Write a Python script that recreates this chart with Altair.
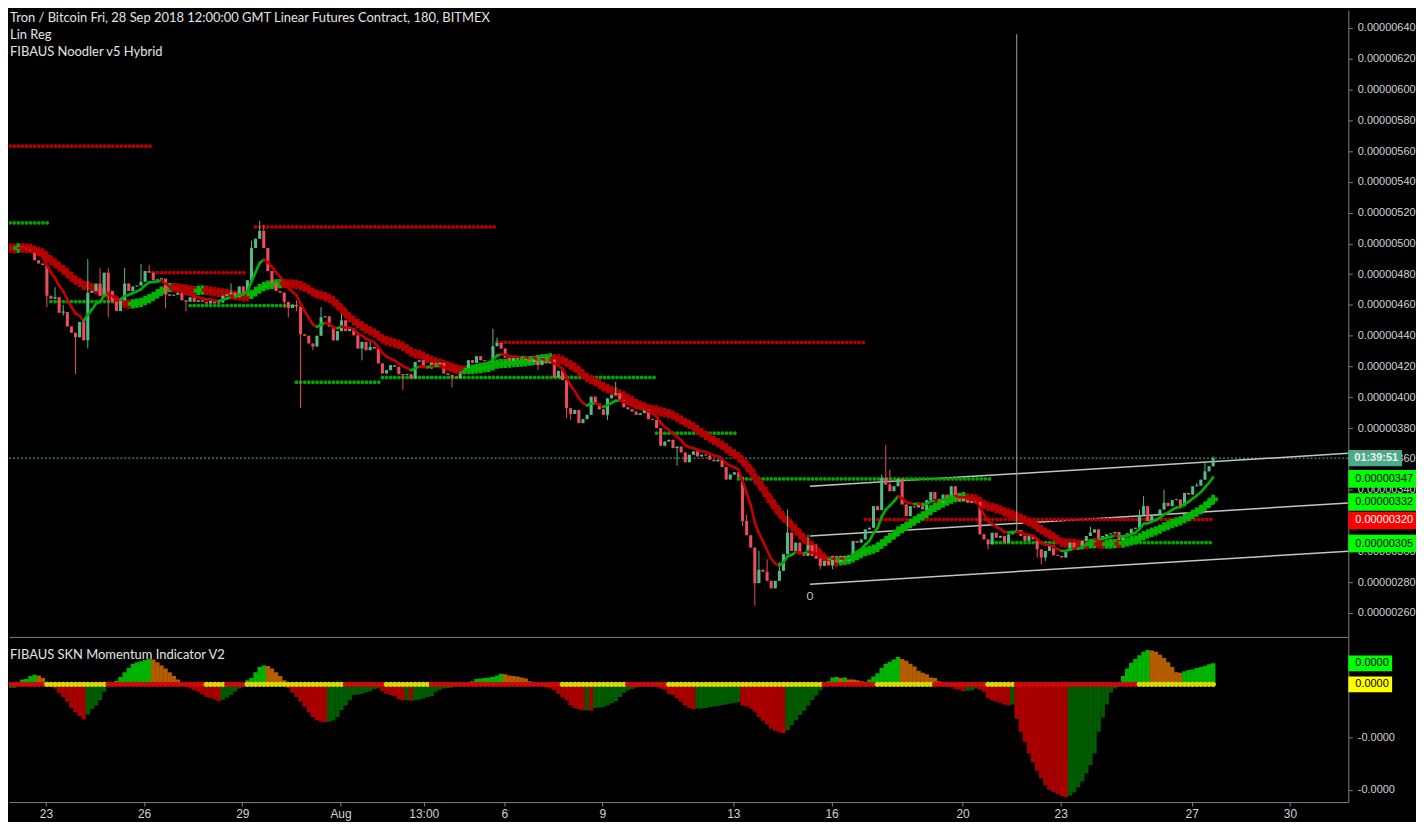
import altair as alt
import numpy as np
import pandas as pd

# ---------------- values (prices in 1e-8 BTC) ----------------
START_DAY = 20.78          # first 180-minute bar, days after 1 Jul 2018 00:00
BAR_DAYS = 0.125
OPEN_FIRST = 495

CLOSE = [
    497, 497, 496, 498, 497, 496, 495, 489, 487, 486,
    466, 464, 465, 455, 455.5, 446, 442, 439, 449, 437,
    468, 469, 474, 466, 481, 469, 462, 456, 463, 474,
    469, 472, 472.6, 475, 482, 481, 476, 476.6, 477, 467,
    466, 466.6, 468, 463, 462, 465, 462, 463, 462, 461,
    463, 461, 461.6, 466, 467, 468, 465, 472, 468, 476,
    497, 503, 508, 497, 482, 474, 469, 468, 462, 458,
    460, 459, 441, 440, 435, 433, 440, 452, 452.6, 446,
    437, 443, 450, 443, 445,
    440.3, 431.7, 436, 430.6, 432.7, 431.6, 422, 415.5, 417.6, 420.9,
    419.8, 415, 414.4, 415, 412.3, 423, 424, 419.8, 418.7, 422.4,
    420.2, 422.4, 415.5, 414.5, 413.3, 412.5, 415.5, 417.6, 424.1, 422.4,
    426.7, 424.1, 423.5, 423, 433.2, 435.3, 431.7, 425.8, 423.7, 425.2,
    426.3, 424.5, 426.7, 423, 426.3, 420.9, 425.8, 422, 424.5, 412.9,
    417.2, 411.2, 392.9, 389.2, 391.8,
    383.2, 385.8, 388.6, 400.4, 396.1, 392.2, 388.6, 399.3, 401.5, 402.6,
    398.3, 393.5, 392.2, 390.7, 388.6, 389.7, 392.2, 385.8, 385.3, 380,
    368.5, 371.3, 372.4, 367, 368, 364.2, 357.8, 362.7, 364.9, 361.6,
    362.7, 362.2, 359.5, 358.4, 359.5, 354.7, 346.6, 349.8, 351.3, 348.3,
    319.6, 310.4, 302.4, 279.3, 288, 286.7, 280.8, 275.9, 280.8, 287.3,
    298.1, 312.1, 300.2,
    305.6, 298, 297, 303.9, 297, 295.2, 290.5, 293.7, 290.9, 297,
    293.1, 297, 293.7, 297, 306.7, 305.6, 307.7, 314.2, 315.3, 329.3,
    326.7, 347.6, 343.3, 339, 342.2, 347, 330.4, 322.8, 329.3, 328.5,
    331.5, 327.2, 333.2, 338.4, 334, 331.5, 336.8, 334.7, 342.2, 336.8,
    332.6, 334.7, 331.5, 332.5, 332, 311, 307.7, 304.5, 312, 308.8,
    310, 305.6,
    311, 313.1, 313.8, 309.9, 306.7, 309.9, 307.7, 301.3, 295.9, 300.2,
    303.9, 297.4, 297, 295.9, 300.2, 305.6, 302.4, 301.3, 306.7, 309.9,
    312.1, 314.2, 307.7, 309.9, 311, 311.6, 312.5, 307.3, 310.3, 311.6,
    314.6, 315.2, 323.3, 329.3, 319.6, 322.8, 323.9, 327.1, 331.5, 329.3,
    333.2, 333.6, 329.3, 337.9, 336.8, 342.2, 342.6, 346.5, 351.9, 355.2,
    360.5,
]

WICK_HI = {12: 471.5, 14: 460, 20: 489.8, 23: 484, 25: 484, 29: 484, 33: 486.6, 35: 486,
           55: 474, 60: 501.7, 62: 514.6, 63: 512, 71: 463, 77: 458.6, 82: 454, 89: 436,
           119: 444.6, 120: 438.8, 149: 410.1, 181: 323.9, 184: 300.2, 186: 294.8, 189: 293,
           191: 327.2, 196: 311, 198: 305, 214: 349.8, 215: 369.2, 216: 353, 265: 316,
           277: 327.1, 278: 335.8, 283: 340.1, 291: 344.4, 293: 358.4, 295: 361.6}
WICK_LO = {10: 458.6, 14: 453, 17: 415, 20: 431.6, 25: 452, 39: 458, 44: 456, 68: 458,
           69: 452, 71: 456, 72: 393, 75: 430.6, 87: 424, 97: 404.7, 109: 406.4, 130: 417.6,
           137: 386.4, 138: 385.3, 147: 385.3, 164: 355.6, 180: 316.4, 183: 264.7, 199: 288.3,
           202: 288.3, 240: 301.3, 252: 295.9, 253: 291.6, 254: 293.7}

SPIKE_BAR = 247           # thin vertical line drawn on that bar
SPIKE_TOP = 636

# support / resistance dotted levels (price, first bar, last bar, kind)
LEVEL_PRICE = [563.1, 513.3, 481.0, 462.2, 459.6, 510.7, 409.8, 412.9, 435.7, 376.7, 347.0, 320.7, 305.6]
LEVEL_FROM = [0, 0, 36, 11, 45, 61, 71, 92, 120, 159, 179, 210, 241]
LEVEL_TO = [36, 11, 59, 36, 71, 120, 92, 159, 210, 179, 241, 295, 295]
LEVEL_KIND = ["res", "sup", "res", "sup", "sup", "res", "sup", "sup", "res", "sup", "sup", "res", "sup"]

# linear regression channel
CHAN_DAY = [45.34, 61.78]
CHAN_UPPER = [342.2, 363.6]
CHAN_MID = [309.9, 331.3]
CHAN_LOWER = [278.6, 300.0]

# momentum histogram (one value per bar)
MOM = [
    -0.29, -0.07, -0.07, 0.04, 0.09, 0.10, 0.16, 0.18, 0.17, 0.12,
    0.04, -0.05, -0.08, -0.16, -0.24, -0.33, -0.45, -0.53, -0.60, -0.66,
    -0.57, -0.47, -0.40, -0.30, -0.14, 0.03, 0.04, 0.07, 0.14, 0.23,
    0.31, 0.39, 0.42, 0.44, 0.46, 0.48, 0.47, 0.42, 0.36, 0.30,
    0.23, 0.16, 0.09, -0.02, -0.03, -0.08, -0.11, -0.14, -0.19, -0.24,
    -0.26, -0.28, -0.32, -0.29, -0.25, -0.20, -0.14, -0.08, -0.05, 0.08,
    0.12, 0.23, 0.33, 0.36, 0.35, 0.30, 0.23, 0.16, 0.08, -0.07,
    -0.16, -0.24, -0.33, -0.43, -0.53, -0.62, -0.68, -0.71, -0.72, -0.71,
    -0.68, -0.62, -0.49, -0.40, -0.30, -0.20, -0.19, -0.18, -0.15, -0.13,
    -0.09, -0.08, -0.13, -0.18, -0.20, -0.22, -0.28, -0.30, -0.30, -0.31,
    -0.30, -0.29, -0.27, -0.24, -0.22, -0.14, -0.10, -0.08, -0.07, -0.06,
    -0.03, -0.02, -0.01, 0.02, 0.06, 0.10, 0.11, 0.12, 0.13, 0.14,
    0.17, 0.20, 0.19, 0.17, 0.16, 0.15, 0.13, 0.11, 0.06, 0.02,
    0.01, -0.01, -0.06, -0.08, -0.11, -0.18, -0.25, -0.30, -0.40, -0.45,
    -0.47, -0.49, -0.49, -0.50, -0.45, -0.44, -0.43, -0.40, -0.36, -0.32,
    -0.24, -0.16, -0.11, -0.09, -0.06, -0.03, -0.02, -0.02, -0.03, -0.04,
    -0.08, -0.10, -0.18, -0.20, -0.27, -0.33, -0.40, -0.45, -0.47, -0.46,
    -0.46, -0.45, -0.43, -0.42, -0.41, -0.39, -0.38, -0.37, -0.35, -0.34,
    -0.40, -0.42, -0.46, -0.52, -0.62, -0.69, -0.76, -0.84, -0.88, -0.91,
    -0.92, -0.87, -0.77, -0.68, -0.58, -0.50, -0.40, -0.30, -0.21, -0.11,
    -0.04, 0.06, 0.13, 0.14, 0.12, 0.13, 0.09, 0.09, 0.08, 0.06,
    0.05, 0.09, 0.15, 0.21, 0.31, 0.39, 0.43, 0.47, 0.52, 0.48,
    0.45, 0.39, 0.34, 0.26, 0.22, 0.19, 0.13, 0.12, 0.06, 0.03,
    -0.03, -0.05, -0.09, -0.10, -0.13, -0.12, -0.11, -0.08, -0.10, -0.14,
    -0.26, -0.30, -0.33, -0.35, -0.38, -0.40, -0.38, -0.65, -0.90, -1.09,
    -1.31, -1.48, -1.64, -1.78, -1.91, -2.00, -2.04, -2.08, -2.12, -2.14,
    -2.11, -2.05, -1.95, -1.84, -1.69, -1.53, -1.31, -0.90, -0.63, -0.38,
    -0.16, -0.08, -0.01, 0.16, 0.30, 0.41, 0.48, 0.55, 0.62, 0.65,
    0.64, 0.62, 0.56, 0.50, 0.42, 0.33, 0.23, 0.22, 0.25, 0.27,
    0.28, 0.31, 0.33, 0.35, 0.38, 0.40,
]
SQUEEZE_FROM = [10, 49, 59, 93, 136, 162, 213, 240, 277]
SQUEEZE_TO = [24, 53, 82, 103, 151, 199, 226, 246, 295]

TICK_DAY = [22, 25, 28, 31, 33.5417, 36, 39, 43, 46, 50, 53, 57, 60]
TICK_TEXT = ["23", "26", "29", "Aug", "13:00", "6", "9", "13", "16", "20", "23", "27", "30"]
PRICE_TICKS = list(range(260, 641, 20))

BADGE_VALUE = [347, 332, 320, 305]
BADGE_FILL = ["#00ff00", "#00ff00", "#ff0000", "#00ff00"]
BADGE_INK = ["#000000", "#000000", "#ffffff", "#000000"]
COUNTDOWN = "01:39:51"

HEADER_LINES = ["Tron / Bitcoin Fri, 28 Sep 2018 12:00:00 GMT Linear Futures Contract, 180, BITMEX",
                "Lin Reg", "FIBAUS Noodler v5 Hybrid"]
LOWER_TITLE = "FIBAUS SKN Momentum Indicator V2"

# ---------------- styling / geometry ----------------
UP_C, DOWN_C = "#53b987", "#eb4d5c"
RED_X, GREEN_X = "#b30000", "#00b400"
RED_L, GREEN_L = "#c40000", "#00b000"
TEAL = "#4caa8c"
W, H_UP, H_LO = 1346, 630, 166
X_MIN = 20.873
X_MAX = X_MIN + W / 32.9
Y_MAX = 651.6
Y_MIN = Y_MAX - H_UP / 1.547
M_MAX = 0.9
M_MIN = M_MAX - H_LO / 53.0

# ---------------- frames ----------------
n = len(CLOSE)
idx = np.arange(n)
day = START_DAY + BAR_DAYS * idx
close = np.array(CLOSE, dtype=float)
open_ = np.concatenate([[OPEN_FIRST], close[:-1]])
hi = np.maximum(open_, close)
lo = np.minimum(open_, close)
for k, v in WICK_HI.items():
    hi[k] = max(hi[k], v)
for k, v in WICK_LO.items():
    lo[k] = min(lo[k], v)
b0 = np.minimum(open_, close)
b1 = np.maximum(np.maximum(open_, close), b0 + 0.7)
candles = pd.DataFrame(dict(day=day, x0=day - 0.047, x1=day + 0.047, lo=lo, hi=hi, b0=b0, b1=b1,
                            col=np.where(close >= open_, UP_C, DOWN_C)))

s = pd.Series(close)
fast = s.ewm(span=8, adjust=False).mean().to_numpy()
slow = s.rolling(21, min_periods=1).mean().to_numpy()
seg = pd.DataFrame(dict(d0=day[:-1], d1=day[1:], v0=fast[:-1], v1=fast[1:],
                        col=np.where(np.diff(fast) >= 0, GREEN_L, RED_L)))
slope = np.diff(slow, prepend=slow[0])
cross = pd.DataFrame(dict(day=day, v=slow, col=np.where(slope > 0, GREEN_X, RED_X)))

levels = pd.DataFrame(dict(p=LEVEL_PRICE,
                           d0=START_DAY + BAR_DAYS * np.array(LEVEL_FROM),
                           d1=START_DAY + BAR_DAYS * np.array(LEVEL_TO),
                           col=["#b50000" if k == "res" else "#00a300" for k in LEVEL_KIND]))

chan = pd.DataFrame(dict(d0=[CHAN_DAY[0]] * 3, d1=[CHAN_DAY[1]] * 3,
                         v0=[CHAN_UPPER[0], CHAN_MID[0], CHAN_LOWER[0]],
                         v1=[CHAN_UPPER[1], CHAN_MID[1], CHAN_LOWER[1]]))

mom = np.array(MOM, dtype=float)
dm = np.diff(mom, prepend=mom[0])
mcol = np.where(mom >= 0, np.where(dm > 0, "#00b300", "#b35c00"),
                np.where(dm < 0, "#a80000", "#005a00"))
sq = np.zeros(n, dtype=bool)
for a, b in zip(SQUEEZE_FROM, SQUEEZE_TO):
    sq[a:b + 1] = True
momdf = pd.DataFrame(dict(day=day, x0=day - 0.068, x1=day + 0.068, m=mom, zero=0.0, col=mcol,
                          dcol=np.where(sq, "#d8d800", "#cc0a0a")))

# ---------------- scales / axes ----------------
XS = alt.Scale(domain=[X_MIN, X_MAX], nice=False, zero=False)
YS = alt.Scale(domain=[Y_MIN, Y_MAX], nice=False, zero=False)
MS = alt.Scale(domain=[M_MIN, M_MAX], nice=False, zero=False)
AX_UP_X = alt.Axis(title=None, labels=False, ticks=False, domain=True, grid=False)
AX_UP_Y = alt.Axis(title=None, orient="right", values=PRICE_TICKS, grid=False,
                   labelExpr="format(datum.value / 100000000, '.8f')", tickSize=4, labelPadding=5)
tick_expr = "".join(f"abs(datum.value - {v}) < 0.01 ? '{t}' : " for v, t in zip(TICK_DAY, TICK_TEXT)) + "''"
AX_LO_X = alt.Axis(title=None, values=TICK_DAY, labelExpr=tick_expr, tickSize=4, labelPadding=3,
                   labelFontSize=12, labelFlush=False, labelOverlap=False, grid=False, domain=True)
AX_LO_Y = alt.Axis(title=None, orient="right", values=[-2, -1, 0], grid=False,
                   labelExpr="datum.value < 0 ? '-0.0000' : '0.0000'", tickSize=4, labelPadding=5)


def xu(f):
    return alt.X(f, type="quantitative", scale=XS, axis=AX_UP_X)


def yu(f):
    return alt.Y(f, type="quantitative", scale=YS, axis=AX_UP_Y)


def xl(f):
    return alt.X(f, type="quantitative", scale=XS, axis=AX_LO_X)


def yl(f):
    return alt.Y(f, type="quantitative", scale=MS, axis=AX_LO_Y)


COL = alt.Color("col:N", scale=None)

# ---------------- upper panel ----------------
price_line = alt.Chart(pd.DataFrame({"p": [close[-1]]})).mark_rule(
    color="#4fc3a1", strokeDash=[2, 2], strokeWidth=1).encode(y=yu("p"))
channel = alt.Chart(chan).mark_rule(color="#c4c4c4", strokeWidth=1.5, clip=True).encode(
    x=xu("d0"), x2="d1", y=yu("v0"), y2="v1")
level_dots = alt.Chart(levels).mark_rule(strokeWidth=3.9, strokeDash=[0.01, 4.125], strokeCap="round",
                                         clip=True).encode(x=xu("d0"), x2="d1", y=yu("p"), color=COL)
crosses = alt.Chart(cross).mark_point(shape="cross", filled=True, size=88, opacity=1, strokeWidth=0,
                                      clip=True).encode(x=xu("day"), y=yu("v"), color=COL)
wicks = alt.Chart(candles).mark_rule(strokeWidth=1, clip=True).encode(x=xu("day"), y=yu("lo"), y2="hi", color=COL)
bodies = alt.Chart(candles).mark_rect(clip=True).encode(x=xu("x0"), x2="x1", y=yu("b0"), y2="b1", color=COL)
spike = alt.Chart(pd.DataFrame({"d": [day[SPIKE_BAR]], "top": [SPIKE_TOP], "bot": [b1[SPIKE_BAR]]})).mark_rule(
    color="#9e9e9e", strokeWidth=1).encode(x=xu("d"), y=yu("bot"), y2="top")
fast_line = alt.Chart(seg).mark_rule(strokeWidth=2.6, strokeCap="round", clip=True).encode(
    x=xu("d0"), x2="d1", y=yu("v0"), y2="v1", color=COL)
zero_lbl = alt.Chart(pd.DataFrame({"d": [CHAN_DAY[0]], "v": [CHAN_LOWER[0] - 7.5], "t": ["0"]})).mark_text(
    color="#bdbdbd", fontSize=12, font="Lato").encode(x=xu("d"), y=yu("v"), text="t:N")

headers = []
for line, py in zip(HEADER_LINES, [8, 25, 42]):
    headers.append(alt.Chart(pd.DataFrame({"t": [line]})).mark_text(
        align="left", baseline="middle", fontSize=13, font="Lato", color="#e4e4e4").encode(
        x=alt.value(1), y=alt.value(py), text="t:N"))

badge_df = pd.DataFrame({"v": BADGE_VALUE, "col": BADGE_FILL, "ink": BADGE_INK,
                         "t": [f"{v / 1e8:.8f}" for v in BADGE_VALUE]})
badge_box = alt.Chart(badge_df).mark_point(shape="M-1,-0.26H1V0.26H-1Z", filled=True, size=68 * 68,
                                           opacity=1, strokeWidth=0).encode(
    x=alt.value(W + 34), y=yu("v"), color=COL)
badge_txt = alt.Chart(badge_df).mark_text(align="left", baseline="middle", fontSize=11,
                                          font="Liberation Sans").encode(
    x=alt.value(W + 7), y=yu("v"), text="t:N", color=alt.Color("ink:N", scale=None))
cd_df = pd.DataFrame({"v": [close[-1]], "t": [COUNTDOWN]})
cd_box = alt.Chart(cd_df).mark_point(shape="M-1,-0.3H1V0.3H-1Z", filled=True, size=54 * 54, opacity=1,
                                     strokeWidth=0, color=TEAL).encode(x=alt.value(W + 27), y=yu("v"))
cd_txt = alt.Chart(cd_df).mark_text(align="left", baseline="middle", fontSize=11, fontWeight="bold",
                                    font="Liberation Sans", color="#f0f0f0").encode(
    x=alt.value(W + 6), y=yu("v"), text="t:N")

upper = alt.layer(price_line, channel, level_dots, crosses, wicks, bodies, spike, fast_line, zero_lbl,
                  *headers, badge_box, badge_txt, cd_box, cd_txt).properties(width=W, height=H_UP)

# ---------------- lower panel ----------------
hist = alt.Chart(momdf).mark_rect(clip=True).encode(x=xl("x0"), x2="x1", y=yl("zero"), y2="m", color=COL)
dots = alt.Chart(momdf).mark_point(shape="circle", filled=True, size=30, opacity=1, strokeWidth=0,
                                   clip=True).encode(x=xl("day"), y=yl("zero"), color=alt.Color("dcol:N", scale=None))
low_title = alt.Chart(pd.DataFrame({"t": [LOWER_TITLE]})).mark_text(
    align="left", baseline="middle", fontSize=13, font="Lato", color="#e4e4e4").encode(
    x=alt.value(1), y=alt.value(18), text="t:N")
mb_df = pd.DataFrame({"v": [mom[-1], 0.0], "col": ["#00ff00", "#ffff00"], "t": ["0.0000", "0.0000"]})
mb_box = alt.Chart(mb_df).mark_point(shape="M-1,-0.36H1V0.36H-1Z", filled=True, size=44 * 44, opacity=1,
                                     strokeWidth=0).encode(x=alt.value(W + 22), y=yl("v"), color=COL)
mb_txt = alt.Chart(mb_df).mark_text(align="left", baseline="middle", fontSize=11, font="Liberation Sans",
                                    color="#000000").encode(x=alt.value(W + 7), y=yl("v"), text="t:N")

lower = alt.layer(hist, dots, low_title, mb_box, mb_txt).properties(width=W, height=H_LO)

chart = alt.vconcat(upper, lower, spacing=0).properties(
    padding=0, background="#000000"
).configure_view(strokeWidth=0).configure_axis(
    domainColor="#808080", tickColor="#808080", labelColor="#d2d2d2",
    labelFont="Liberation Sans", labelFontSize=11
)

chart.save("out.html", embed_options={"renderer": "svg", "actions": False})
